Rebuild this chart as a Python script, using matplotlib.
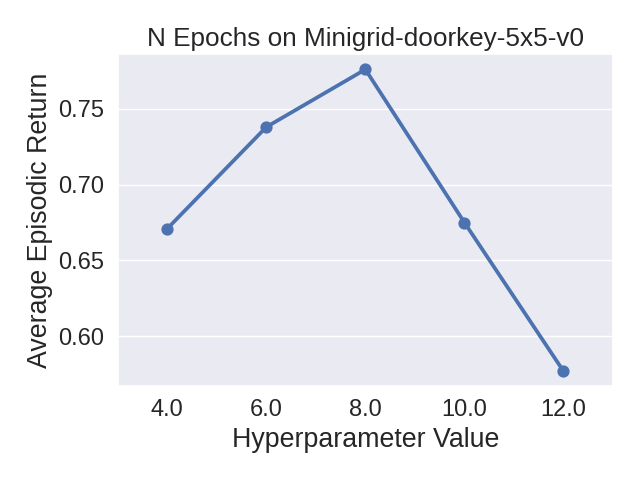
import matplotlib
matplotlib.use("Agg")
import matplotlib.pyplot as plt
import seaborn as sns

hyper_values = ["4.0", "6.0", "8.0", "10.0", "12.0"]
avg_returns = [0.671, 0.738, 0.776, 0.675, 0.577]

sns.set_theme(style="darkgrid", font_scale=1.5)
plt.rcParams["font.family"] = ["Liberation Sans", "DejaVu Sans"]
fig, ax = plt.subplots(figsize=(6.4, 4.8), dpi=100)
sns.pointplot(x=hyper_values, y=avg_returns, ax=ax)
ax.tick_params(labelsize=17)
ax.set_xlabel("Hyperparameter Value", fontsize=19.3)
ax.set_ylabel("Average Episodic Return", fontsize=19.3)
ax.set_title("N Epochs on Minigrid-doorkey-5x5-v0", fontsize=18.8)
plt.tight_layout()
plt.savefig("out.png")
